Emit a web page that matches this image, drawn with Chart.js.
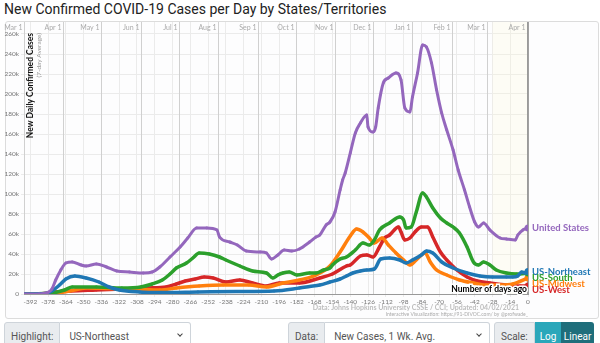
<!DOCTYPE html>
<html>
<head>
<meta charset="utf-8">
<script src="https://cdn.jsdelivr.net/npm/chart.js@4.4.1/dist/chart.umd.min.js"></script>
<style>
  body { margin:0; width:600px; height:343px; overflow:hidden; background:#fff; position:relative; font-family: Roboto, "Liberation Sans", sans-serif; }
  #title { position:absolute; left:4px; top:0; font-size:14px; line-height:19px; color:#222; white-space:nowrap; }
  #card { position:absolute; left:5px; top:21px; width:592px; height:296px; border:1px solid #dcdcdc; border-radius:3px; background:#fdfdfe; }
  #chart { position:absolute; left:0; top:0; }
  .grp { position:absolute; top:322px; height:28px; display:flex; font-size:10px; color:#555; }
  .grp > div { box-sizing:border-box; height:28px; display:flex; align-items:center; border:1px solid #ced4da; white-space:nowrap; }
  .lab { background:#e9ecef; border-radius:3px 0 0 3px; padding:0 6px; }
  .sel { flex:1; background:#fff; border-left:none !important; border-radius:0 3px 3px 0; padding-left:9px; position:relative; }
  .chev { position:absolute; right:8px; top:9px; width:3px; height:3px; border-right:1.2px solid #444; border-bottom:1.2px solid #444; transform:rotate(45deg); }
  .btn { color:#fff; justify-content:center; border:none !important; }
  .log { background:#2aa7ba; width:29px; }
  .lin { background:#1f6e7b; width:36px; border-radius:0 3px 3px 0; }
</style>
</head>
<body>
<div id="title">New Confirmed COVID-19 Cases per Day by States/Territories</div>
<div id="card"></div>
<canvas id="chart" width="600" height="318"></canvas>

<div class="grp" style="left:4px;width:187px"><div class="lab">Highlight:</div><div class="sel">US-Northeast<span class="chev"></span></div></div>
<div class="grp" style="left:288px;width:202px"><div class="lab">Data:</div><div class="sel">New Cases, 1 Wk. Avg.<span class="chev"></span></div></div>
<div class="grp" style="left:494px;width:100px"><div class="lab">Scale:</div><div class="btn log">Log</div><div class="btn lin">Linear</div></div>

<script>
// x = days ago (0 = 04/02/2021), y = new cases per day, 7-day average, in thousands
const dayTicks = [-392, -378, -364, -350, -336, -322, -308, -294, -280, -266, -252, -238, -224, -210,
    -196, -182, -168, -154, -140, -126, -112, -98, -84, -70, -56, -42, -28, -14, 0]
const caseTicks = [0, 20, 40, 60, 80, 100, 120, 140, 160, 180, 200, 220, 240, 260]
const monthLabels = ['Mar 1', 'Apr 1', 'May 1', 'Jun 1', 'Jul 1', 'Aug 1', 'Sep 1', 'Oct 1', 'Nov 1', 'Dec 1', 'Jan 1', 'Feb 1', 'Mar 1', 'Apr 1']
const monthDays = [-397, -366, -336, -305, -275, -244, -213, -183, -152, -122, -91, -60, -32, -1]

const usDays = [-397, -385, -379, -375, -372, -368, -364, -359, -352, -348, -340, -332, -324, -314, -303, -296,
    -290, -282, -274, -268, -261, -253, -245, -243, -235, -229, -222, -211, -206, -202, -197, -192, -186, -180,
    -172, -167, -164, -159, -156, -152, -148, -146, -144, -140, -136, -132, -127, -126, -122, -120, -118, -114,
    -110, -104, -100, -97, -93, -91, -87, -83, -80, -76, -72, -68, -64, -59, -55, -50, -46, -42, -39, -35, -30,
    -22, -17, -10, -8, -4, 0]
const usCases = [0, 0.1, 1, 5, 14, 24, 31, 32, 29, 28, 30, 27, 23, 22, 21, 22,
    27, 37, 47, 56, 66, 66, 64, 57, 52, 49, 43, 42, 41, 35, 39, 44, 43, 45,
    52, 57, 59, 69, 72, 82, 104, 114, 121, 141, 161, 171, 179, 167, 162, 167, 186, 211,
    216, 221, 214, 186, 182, 197, 221, 249, 247, 231, 204, 181, 164, 144, 124, 104, 87, 72, 67, 71, 64,
    56, 55, 54, 59, 64, 66]

const neDays = [-397, -380, -375, -369, -364, -357, -348, -338, -330, -322, -306, -290, -260, -230, -200, -180,
    -172, -164, -156, -148, -143, -138, -132, -127, -121, -116, -109, -101, -96, -91, -84, -80, -75, -68, -59,
    -48, -38, -28, -17, -12, -8, -5, -2, 0]
const neCases = [0, 0.5, 3, 9, 15, 18, 16, 12, 7, 4, 2, 1.5, 2, 2.5, 3, 6,
    7.5, 9, 12, 15, 18, 21, 23, 24, 25, 35, 36, 34, 31, 34, 39, 43, 41, 32, 26,
    21, 18, 17, 17, 17, 18, 22, 21, 22.5]

const southDays = [-397, -375, -365, -359, -340, -320, -305, -296, -288, -282, -277, -269, -264, -259, -251, -243,
    -238, -227, -217, -206, -201, -197, -193, -188, -182, -172, -167, -161, -156, -154, -148, -143, -136, -130,
    -125, -121, -117, -109, -101, -98, -96, -92, -88, -83, -80, -75, -69, -64, -59, -54, -48, -43, -39, -35,
    -30, -25, -17, -9, 0]
const southCases = [0, 1, 4, 7, 7, 6, 7, 10, 14, 20, 26, 31, 36, 41, 40, 37,
    34, 28, 23, 21, 16, 19, 21, 22, 19, 21, 21, 24, 26, 29, 35, 37, 44, 51,
    49, 54, 64, 71, 77, 74, 66, 67, 82, 101, 97, 86, 76, 71, 67, 61, 47, 32, 29, 32,
    29, 24, 21, 20, 21]

const midwestDays = [-397, -375, -361, -348, -330, -310, -290, -277, -259, -240, -220, -206, -193, -180, -167, -156,
    -148, -140, -135, -130, -125, -121, -115, -110, -104, -98, -93, -88, -81, -77, -72, -64, -54, -43, -33,
    -22, -12, 0]
const midwestCases = [0, 0.5, 3, 6, 5.5, 5, 4, 6, 8, 9, 9, 7, 11, 14, 19, 28,
    42, 58, 65, 62, 56, 51, 56, 49, 41, 34, 29, 34, 41, 32, 24, 19, 14, 11, 9,
    9, 10, 16]

const westDays = [-397, -381, -373, -360, -340, -320, -300, -285, -277, -270, -262, -255, -248, -238, -227, -217,
    -206, -196, -180, -164, -154, -143, -140, -132, -127, -122, -117, -113, -109, -102, -100, -97, -93, -89,
    -84, -79, -75, -69, -64, -56, -48, -40, -30, -17, -6, 0]
const westCases = [0, 0.5, 2, 3, 4, 5, 6, 7, 10, 13, 15, 17, 16, 12, 14, 11,
    8, 11, 11, 16, 20, 28, 29, 38, 39, 37, 47, 56, 59, 67, 62, 54, 56, 62,
    67, 67, 57, 42, 34, 24, 17, 13, 11, 9, 8, 8]

const seriesNames = ['United States', 'US-Northeast', 'US-South', 'US-Midwest', 'US-West']
const seriesColors = ['#9467bd', '#1f77b4', '#2ca02c', '#ff7f0e', '#d62728']
const seriesDays = [usDays, neDays, southDays, midwestDays, westDays]
const seriesCases = [usCases, neCases, southCases, midwestCases, westCases]
const recentFrom = -28

const LABEL_FONT = 'Lato, "DejaVu Sans", sans-serif'

function makeDataset(i) {
    const pts = seriesDays[i].map((d, j) => ({ x: d, y: seriesCases[i][j] }))
    const last = pts.length - 1
    return {
        label: seriesNames[i],
        data: pts,
        borderColor: seriesColors[i],
        backgroundColor: seriesColors[i],
        borderWidth: i === 0 ? 3 : 3.5,
        cubicInterpolationMode: 'monotone',
        pointRadius: ctx => ctx.dataIndex === last ? 3.5 : 1.4,
        pointBorderWidth: 0,
        pointBackgroundColor: seriesColors[i],
        fill: false
    }
}

const extras = {
    id: 'extras',
    beforeDatasetsDraw(chart) {
        const { ctx, chartArea: a, scales: { x } } = chart
        ctx.save()
        // shaded recent weeks
        const bx = x.getPixelForValue(recentFrom)
        ctx.fillStyle = 'rgba(255, 250, 210, 0.2)'
        ctx.fillRect(bx, a.top, a.right - bx, a.bottom - a.top)

        // month lines + labels on top
        ctx.lineWidth = 1
        ctx.font = '7px ' + LABEL_FONT
        ctx.textAlign = 'right'
        ctx.textBaseline = 'middle'
        monthDays.forEach((d, i) => {
            const px = Math.round(x.getPixelForValue(d)) + 0.5
            ctx.strokeStyle = '#d0d0d0'
            ctx.beginPath(); ctx.moveTo(px, a.top); ctx.lineTo(px, a.bottom); ctx.stroke()
            ctx.fillStyle = '#aaa'
            ctx.fillText(monthLabels[i], px - 2, a.top + 6)
        })

        // today line
        const zx = x.getPixelForValue(0)
        ctx.strokeStyle = '#888'
        ctx.lineWidth = 1.5
        ctx.beginPath(); ctx.moveTo(zx, a.top); ctx.lineTo(zx, a.bottom); ctx.stroke()

        // y axis title
        ctx.translate(a.left + 6, a.top + 11)
        ctx.rotate(-Math.PI / 2)
        ctx.textAlign = 'right'
        ctx.fillStyle = '#111'
        ctx.font = 'bold 8.5px ' + LABEL_FONT
        ctx.fillText('New Daily Confirmed Cases', 0, 0)
        ctx.fillStyle = '#999'
        ctx.font = '6.5px ' + LABEL_FONT
        ctx.fillText('(7-day Average)', 0, 8.5)
        ctx.restore()
    },
    afterDatasetsDraw(chart) {
        const { ctx, chartArea: a, scales: { x, y } } = chart
        ctx.save()
        // end-of-line labels, pushed apart so they do not overlap
        const labels = chart.data.datasets.map((ds, i) => ({
            text: ds.label, color: ds.borderColor,
            py: y.getPixelForValue(ds.data[ds.data.length - 1].y)
        })).sort((p, q) => p.py - q.py)
        for (let i = 1; i < labels.length; i++) {
            labels[i].py = Math.max(labels[i].py, labels[i - 1].py + 6)
        }
        ctx.font = 'bold 9.5px ' + LABEL_FONT
        ctx.textAlign = 'left'
        ctx.textBaseline = 'middle'
        labels.forEach(l => {
            ctx.fillStyle = l.color
            ctx.fillText(l.text, a.right + 4, l.py)
        })

        // axis caption with white halo
        ctx.font = 'bold 8.5px ' + LABEL_FONT
        ctx.textAlign = 'right'
        ctx.lineWidth = 3
        ctx.strokeStyle = '#fff'
        ctx.strokeText('Number of days ago', a.right - 1, a.bottom - 5)
        ctx.fillStyle = '#000'
        ctx.fillText('Number of days ago', a.right - 1, a.bottom - 5)

        // source
        ctx.font = 'bold 7px ' + LABEL_FONT
        ctx.fillStyle = '#bdbdbd'
        ctx.fillText('Data: Johns Hopkins University CSSE / CCI; Updated: 04/02/2021', a.right - 9, a.bottom + 14)
        ctx.font = '5px ' + LABEL_FONT
        ctx.fillStyle = '#aaa'
        ctx.fillText('Interactive Visualization: https://91-DIVOC.com/ by @profwade_', a.right, a.bottom + 20.5)
        ctx.restore()
    }
}

new Chart(document.getElementById('chart'), {
    type: 'line',
    data: { datasets: seriesNames.map((n, i) => makeDataset(i)) },
    options: {
        responsive: false,
        animation: false,
        devicePixelRatio: 1,
        layout: { padding: { left: 0, right: 72, top: 22, bottom: 12 } },
        plugins: { legend: { display: false }, tooltip: { enabled: false } },
        scales: {
            x: {
                type: 'linear',
                min: -397,
                max: 0,
                afterBuildTicks: scale => { scale.ticks = dayTicks.map(v => ({ value: v })) },
                afterFit: scale => { scale.height = 12 },
                grid: { color: '#ebebeb', tickLength: 3 },
                border: { color: '#999' },
                ticks: { font: { size: 6.5, family: LABEL_FONT }, color: '#777', padding: 1, maxRotation: 0, autoSkip: false }
            },
            y: {
                min: 0,
                max: 272,
                afterBuildTicks: scale => { scale.ticks = caseTicks.map(v => ({ value: v })) },
                afterFit: scale => { scale.width = 24 },
                grid: { color: '#ebebeb', tickLength: 3 },
                border: { color: '#999' },
                ticks: {
                    font: { size: 6.5, family: LABEL_FONT }, color: '#777', padding: 2,
                    callback: v => v === 0 ? '0' : v + 'k'
                }
            }
        }
    },
    plugins: [extras]
})
</script>
</body>
</html>
